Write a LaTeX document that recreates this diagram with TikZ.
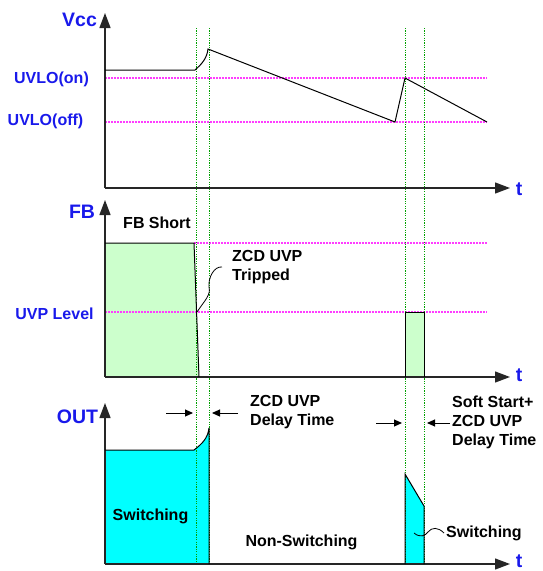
\documentclass[tikz,border=0pt]{standalone}
\usepackage{fontspec}
\setmainfont{Liberation Sans}
\usetikzlibrary{arrows.meta}
\definecolor{lblblue}{RGB}{25,25,235}
\definecolor{lvlmag}{RGB}{255,60,255}
\definecolor{mkgreen}{RGB}{0,160,0}
\definecolor{fbfill}{RGB}{204,255,204}
\definecolor{outfill}{RGB}{0,255,255}
\begin{document}
\begin{tikzpicture}[x=1pt, y=-1pt,
	txt/.style={font=\bfseries\fontsize{16}{19}\selectfont, inner sep=0pt},
	axlabel/.style={txt, text=lblblue},
	bigaxlabel/.style={axlabel, font=\bfseries\fontsize{19.5}{22}\selectfont},
	axis/.style={draw=black!85, line width=1.3pt, -{Triangle[length=15pt,width=11pt]}},
	level/.style={draw=lvlmag, line width=1.3pt, dash pattern=on 1.5pt off 1.5pt},
	marker/.style={draw=mkgreen, line width=0.9pt, dash pattern=on 1.2pt off 1.2pt},
	wave/.style={draw=black, line width=1pt},
	dimarrow/.style={draw=black, line width=1pt, -{Triangle[length=8pt,width=7pt]}},
	leader/.style={draw=black, line width=0.8pt}]
	\useasboundingbox (0,0) rectangle (542,571);

	% Fills under everything
	\fill[fbfill] (105,243) -- (194,243) -- (199,377) -- (105,377) -- cycle;
	\fill[fbfill] (405,312) rectangle (424,377);
	\fill[outfill] (105,450) -- (194,450) .. controls (202,444) and (208,438) .. (209,428) -- (209,564) -- (105,564) -- cycle;
	\fill[outfill] (405,474) -- (424,506) -- (424,564) -- (405,564) -- cycle;

	% Dotted levels
	\draw[level] (105,78) -- (487,78);
	\draw[level] (105,122) -- (487,122);
	\draw[level] (194,243) -- (487,243);
	\draw[level] (105,312) -- (487,312);

	% Dotted time markers
	\foreach \tx in {196,209.5,405,424}
		\draw[marker] (\tx,28) -- (\tx,565);

	% Vcc panel
	\coordinate (vccorg) at (105,188);
	\coordinate (vcctop) at (105,13);
	\coordinate (vccend) at (510,188);
	\draw[axis] (vccorg) -- (vcctop);
	\draw[axis] (vccorg) -- (vccend);
	\draw[wave] (105,70) -- (195,70) .. controls (202,64) and (207,58) .. (208,49) -- (395,122) -- (405,78) -- (487,122);
	\node[bigaxlabel] (vcc) at (79.5,20) {Vcc};
	\node[axlabel] (uvloon) at (51.5,79) {UVLO(on)};
	\node[axlabel] (uvlooff) at (45.5,121) {UVLO(off)};
	\node[bigaxlabel] (tvcc) at (519,189.5) {t};

	% FB panel
	\coordinate (fborg) at (105,377);
	\coordinate (fbtop) at (105,200);
	\coordinate (fbend) at (510,377);
	\draw[axis] (fborg) -- (fbtop);
	\draw[axis] (fborg) -- (fbend);
	\draw[wave] (105,243) -- (194,243) -- (199,377);
	\draw[wave] (405,377) -- (405,312) -- (424,312) -- (424,377);
	\node[bigaxlabel] (fb) at (82,212) {FB};
	\node[txt] (fbshort) at (157,222.5) {FB Short};
	\node[axlabel] (uvplvl) at (54.5,313.5) {UVP Level};
	\node[txt, anchor=west, align=left] (tripped) at (232,267) {ZCD UVP\\Tripped};
	\coordinate (uvphit) at (197,312);
	\draw[leader] (uvphit) .. controls (205,300) and (211,295) .. (209,287) .. controls (208,278) and (214,266) .. ([xshift=-10pt]tripped.west);
	\node[bigaxlabel] (tfb) at (519,375.5) {t};

	% OUT panel
	\coordinate (outorg) at (105,564);
	\coordinate (outtop) at (105,403);
	\coordinate (outend) at (510,564);
	\draw[axis] (outorg) -- (outtop);
	\draw[axis] (outorg) -- (outend);
	\draw[wave] (105,450) -- (194,450) .. controls (202,444) and (208,438) .. (209,428) -- (209,564);
	\draw[wave] (405,564) -- (405,474) -- (424,506) -- (424,564);
	\node[bigaxlabel] (out) at (77.5,416.5) {OUT};
	\node[txt] (swleft) at (150.5,516) {Switching};
	\node[txt] (nosw) at (301.5,542) {Non-Switching};
	\node[txt, anchor=west] (swright) at (446,533) {Switching};
	\coordinate (swhit) at (414,533);
	\draw[leader] (swhit) .. controls (420,538) and (425,536) .. (428,532) .. controls (432,527) and (438,527) .. ([xshift=-2pt]swright.west);
	\node[bigaxlabel] (tout) at (519,561.5) {t};

	% Delay time marks
	\coordinate (dlyla) at (166,413);
	\coordinate (dlylb) at (193,413);
	\coordinate (dlyra) at (238,413);
	\coordinate (dlyrb) at (212,413);
	\draw[dimarrow] (dlyla) -- (dlylb);
	\draw[dimarrow] (dlyra) -- (dlyrb);
	\node[txt, anchor=west, align=left] (zcddly) at (250,412.5) {ZCD UVP\\Delay Time};
	\coordinate (ssla) at (376,423);
	\coordinate (sslb) at (402,423);
	\coordinate (ssra) at (450,423);
	\coordinate (ssrb) at (427,423);
	\draw[dimarrow] (ssla) -- (sslb);
	\draw[dimarrow] (ssra) -- (ssrb);
	\node[txt, anchor=west, align=left] (ssdly) at (452,422.5) {Soft Start+\\ZCD UVP\\Delay Time};
\end{tikzpicture}
\end{document}
